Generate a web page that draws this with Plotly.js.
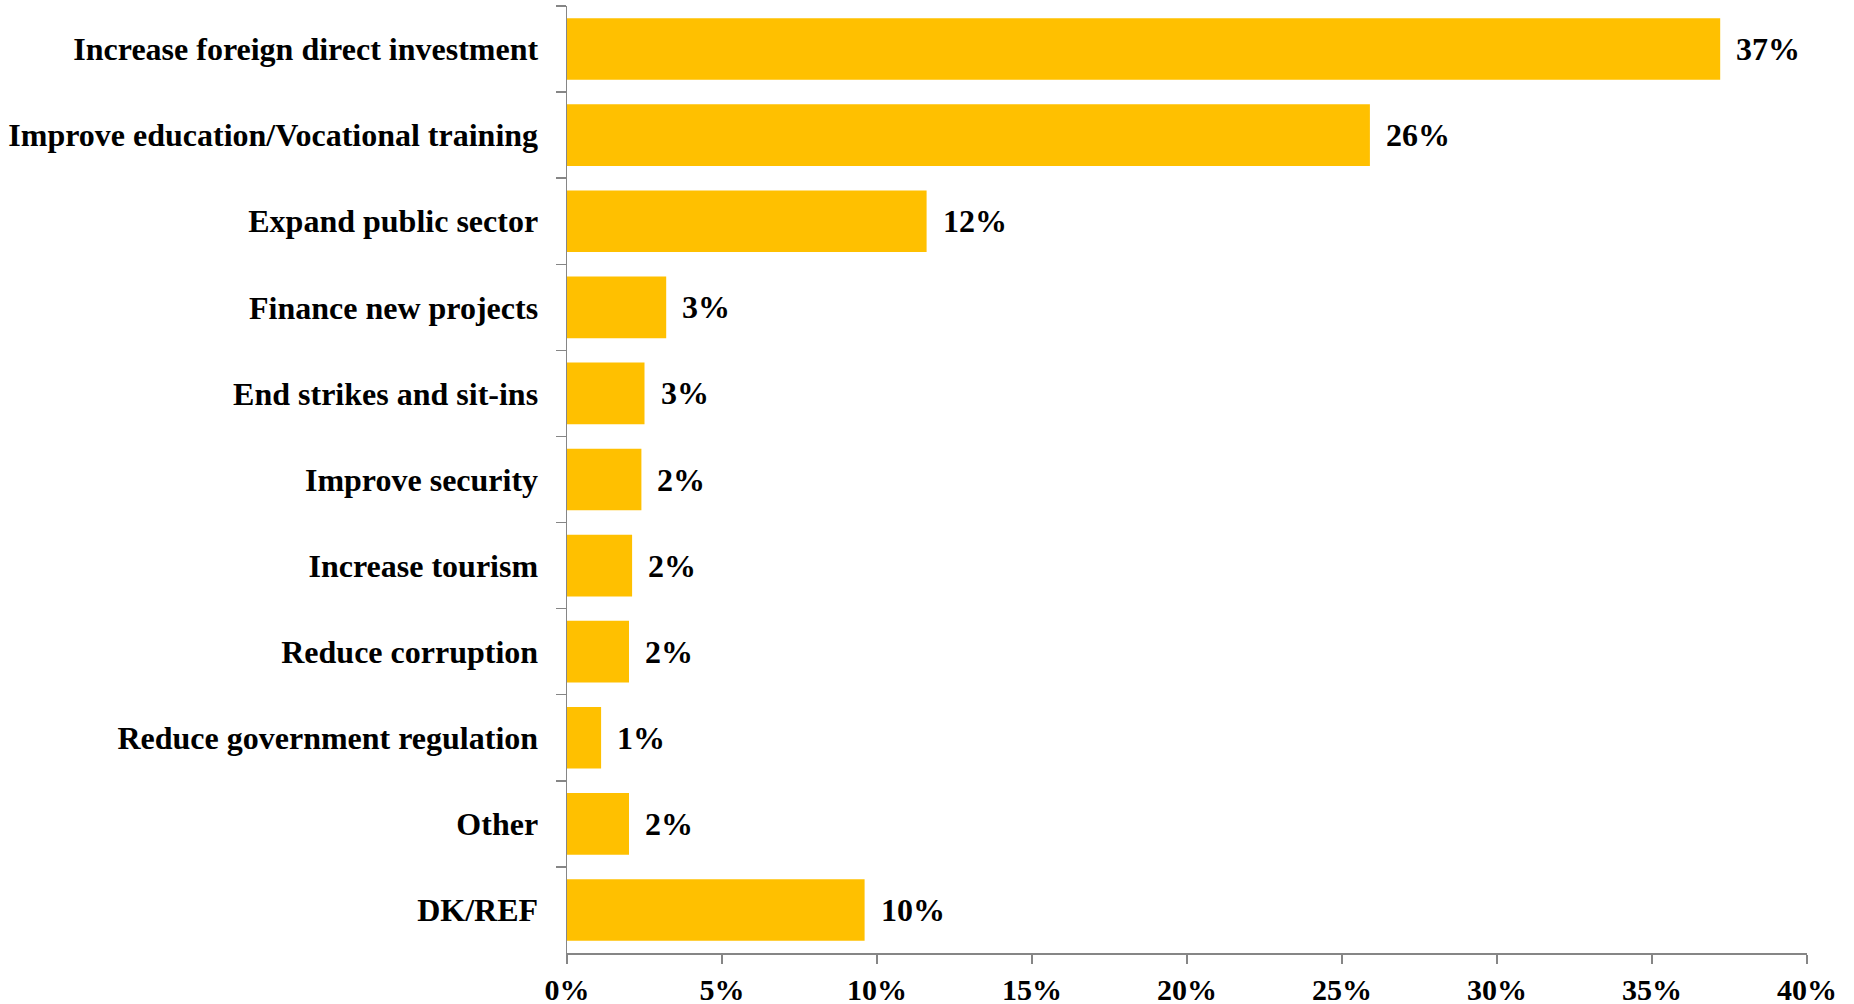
<!DOCTYPE html>
<html>
<head>
<meta charset="utf-8">
<script src="https://cdn.plot.ly/plotly-3.0.1.min.js"></script>
<style>
  html, body { margin: 0; padding: 0; background: #ffffff; }
  #chart { width: 1854px; height: 1004px; }
</style>
</head>
<body>
<div id="chart"></div>
<script>
const categories = [
  "Increase foreign direct investment",
  "Improve education/Vocational training",
  "Expand public sector",
  "Finance new projects",
  "End strikes and sit-ins",
  "Improve security",
  "Increase tourism",
  "Reduce corruption",
  "Reduce government regulation",
  "Other",
  "DK/REF"
];
const values = [37.2, 25.9, 11.6, 3.2, 2.5, 2.4, 2.1, 2.0, 1.1, 2.0, 9.6];
const valueLabels = ["37%", "26%", "12%", "3%", "3%", "2%", "2%", "2%", "1%", "2%", "10%"];
const xTickValues = [0, 5, 10, 15, 20, 25, 30, 35, 40];

const FONT = "Times New Roman, Liberation Serif, serif";

const trace = {
  type: "bar",
  orientation: "h",
  x: values,
  y: categories,
  marker: { color: "#FFC000", line: { width: 0 } },
  hoverinfo: "skip"
};

const annotations = categories.map((c, i) => ({
  x: values[i],
  y: c,
  xref: "x",
  yref: "y",
  text: valueLabels[i],
  showarrow: false,
  xanchor: "left",
  yanchor: "middle",
  xshift: 14,
  font: { family: FONT, size: 32, color: "#000000", weight: "bold" }
}));

const layout = {
  width: 1854,
  height: 1004,
  margin: { l: 567, r: 47, t: 6, b: 51, pad: 0 },
  paper_bgcolor: "#ffffff",
  plot_bgcolor: "#ffffff",
  showlegend: false,
  bargap: 0.284,
  font: { family: FONT, color: "#000000" },
  xaxis: {
    range: [0, 40],
    tickvals: xTickValues,
    ticktext: xTickValues.map(v => v + "%"),
    ticks: "outside",
    ticklen: 9,
    tickwidth: 1.5,
    tickcolor: "#868686",
    showline: true,
    linecolor: "#868686",
    linewidth: 1.5,
    showgrid: false,
    zeroline: false,
    tickfont: { family: FONT, size: 30, color: "#000000", weight: "bold" }
  },
  yaxis: {
    type: "category",
    range: [10.5, -0.5],
    tickson: "boundaries",
    ticks: "outside",
    ticklen: 10,
    tickwidth: 1.5,
    tickcolor: "#868686",
    showline: true,
    linecolor: "#868686",
    linewidth: 1.5,
    showgrid: false,
    zeroline: false,
    ticklabelstandoff: 21,
    tickfont: { family: FONT, size: 32, color: "#000000", weight: "bold" }
  },
  annotations: annotations
};

Plotly.newPlot("chart", [trace], layout, { displayModeBar: false, staticPlot: true });
</script>
</body>
</html>
